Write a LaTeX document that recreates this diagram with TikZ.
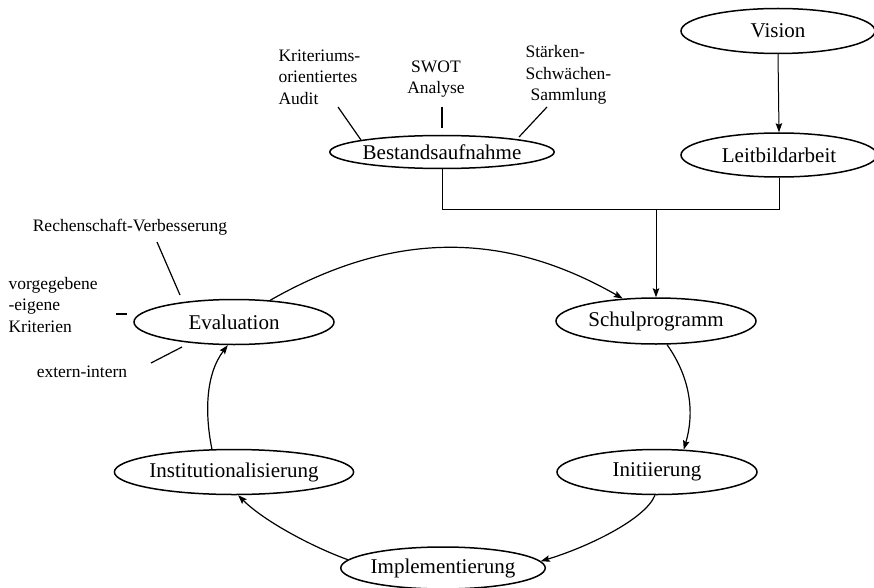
\documentclass[tikz,border=0pt]{standalone}
\usepackage{fontspec}
\setmainfont{Liberation Serif}
\usetikzlibrary{shapes.geometric,arrows.meta}
\begin{document}
\begin{tikzpicture}[x=1pt,y=-1pt,
  line width=1.2pt,
  ell/.style={draw,ellipse,line width=1.5pt,inner sep=0pt,font=\fontsize{21}{25}\selectfont},
  lbl/.style={inner sep=0pt,font=\fontsize{17.5}{21.5}\selectfont},
  arr/.style={-{Stealth[length=9pt,width=6.5pt,inset=1.5pt]}}]
\useasboundingbox (0,0) rectangle (874,588);
% main nodes
\node[ell,minimum width=194pt,minimum height=45pt] (vision) at (778,31) {Vision};
\node[ell,minimum width=196pt,minimum height=44pt] (leit) at (779,155) {Leitbildarbeit};
\node[ell,minimum width=200pt,minimum height=33pt] (best) at (442,152) {Bestandsaufnahme};
\node[ell,minimum width=200pt,minimum height=46pt] (schul) at (656,321) {Schulprogramm};
\node[ell,minimum width=200pt,minimum height=45pt] (eval) at (234,322) {Evaluation};
\node[ell,minimum width=200pt,minimum height=45pt] (init) at (657,472) {Initiierung};
\node[ell,minimum width=198pt,minimum height=45pt] (inst) at (234,472) {Institutionalisierung};
\node[ell,minimum width=200pt,minimum height=42pt] (impl) at (443,568) {Implementierung};
% small labels
\node[lbl,align=left,anchor=west] (krit) at (278,77) {Kriteriums-\\orientiertes\\Audit};
\node[lbl,align=center] (swot) at (436,79) {SWOT\\Analyse};
\node[lbl,align=left,anchor=west] (sws) at (525,75) {Stärken-\\Schwächen-\\\hspace*{5pt}Sammlung};
\node[lbl] (rech) at (130,227) {Rechenschaft-Verbesserung};
\node[lbl,align=left,anchor=west] (vorg) at (8,305) {vorgegebene\\-eigene\\Kriterien};
\node[lbl] (ext) at (82,372) {extern-intern};
% label ticks
\coordinate (k1) at (338,107); \coordinate (k2) at (361,140);
\coordinate (s1) at (442,107); \coordinate (s2) at (442,128);
\coordinate (w1) at (547,107); \coordinate (w2) at (519,137);
\coordinate (r1) at (157,242); \coordinate (r2) at (180,295);
\coordinate (d1) at (116,314); \coordinate (d2) at (127,314);
\coordinate (e1) at (151,363); \coordinate (e2) at (182,347);
\draw (k1) -- (k2);
\draw (s1) -- (s2);
\draw (w1) -- (w2);
\draw (r1) -- (r2);
\draw[line width=1.8pt] (d1) -- (d2);
\draw (e1) -- (e2);
% top connectors
\coordinate (hl) at (0,209);
\draw[arr,line width=1pt] (vision.south) -- (leit.north);
\draw[line width=1pt] (best.south) |- (hl -| leit.south) -- (leit.south);
\draw[arr,line width=1pt] (hl -| schul.north) -- (schul.north);
% cycle
\draw[arr] (eval.31) .. controls (392,231) and (503,230) .. (schul.146);
\draw[arr] (schul.-65) .. controls (692,380) and (694,415) .. (init.40);
\draw[arr] (init.-95) .. controls (645,520) and (585,548) .. (impl.4);
\draw[arr] (impl.175) .. controls (315,548) and (265,522) .. (inst.-80);
\draw[arr] (inst.134) .. controls (205,415) and (205,375) .. (eval.-105);
\end{tikzpicture}
\end{document}
